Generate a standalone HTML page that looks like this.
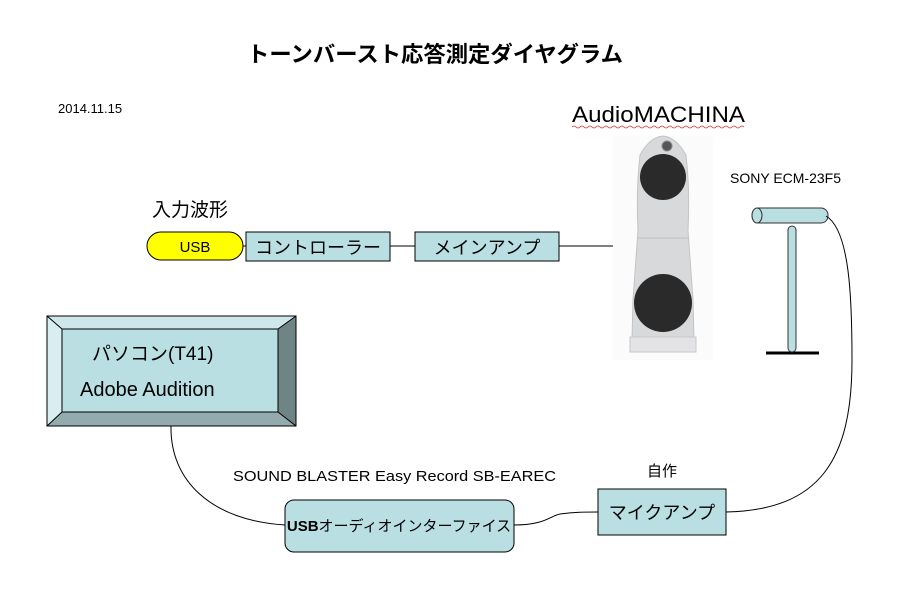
<!DOCTYPE html>
<html><head><meta charset="utf-8"><style>
body{margin:0;background:#fff;}
svg{display:block;font-family:"Liberation Sans","Noto Sans CJK JP",sans-serif;}
</style></head><body>
<svg width="906" height="606" viewBox="0 0 906 606" xmlns="http://www.w3.org/2000/svg">
<rect width="906" height="606" fill="#fff"/>
<text x="435" y="62" font-size="22" font-weight="bold" text-anchor="middle" textLength="376" lengthAdjust="spacingAndGlyphs">トーンバースト応答測定ダイヤグラム</text>
<text x="58" y="113" font-size="13">2014.11.15</text>
<text x="572" y="122" font-size="22" textLength="173" lengthAdjust="spacingAndGlyphs">AudioMACHINA</text>
<path d="M572 127 q2 -2 4 0 t4 0 t4 0 t4 0 t4 0 t4 0 t4 0 t4 0 t4 0 t4 0 t4 0 t4 0 t4 0 t4 0 t4 0 t4 0 t4 0 t4 0 t4 0 t4 0 t4 0 t4 0 t4 0 t4 0 t4 0 t4 0 t4 0 t4 0 t4 0 t4 0 t4 0 t4 0 t4 0 t4 0 t4 0 t4 0 t4 0 t4 0 t4 0 t4 0 t4 0 t4 0 t4 0" stroke="#d33" fill="none" stroke-width="0.8"/>
<text x="730" y="183" font-size="14">SONY ECM-23F5</text>
<text x="152" y="216" font-size="19">入力波形</text>
<rect x="147" y="232" width="96" height="28" rx="14" fill="#ffff00" stroke="#000" stroke-width="1"/>
<text x="195" y="252" font-size="15" text-anchor="middle">USB</text>
<line x1="243" y1="246" x2="246" y2="246" stroke="#000"/>
<rect x="246" y="232" width="144" height="29" fill="#b9dfe2" stroke="#000"/>
<text x="318" y="254" font-size="18" text-anchor="middle">コントローラー</text>
<line x1="390" y1="246" x2="415" y2="246" stroke="#000"/>
<rect x="415" y="232" width="144" height="29" fill="#b9dfe2" stroke="#000"/>
<text x="487" y="254" font-size="18" text-anchor="middle">メインアンプ</text>
<line x1="559" y1="246" x2="613" y2="246" stroke="#000"/>
<!-- speaker -->
<rect x="613" y="136" width="100" height="224" fill="#fbfbfb"/>
<path d="M632 340 L633 300 Q636 260 638 230 Q636 190 640 155 Q650 137 663 136 Q676 137 686 155 Q690 190 688 230 Q690 260 693 300 L694 340 Z" fill="#d8d9db" stroke="#c4c4c6"/>
<line x1="638" y1="238" x2="688" y2="238" stroke="#c0c0c2"/>
<rect x="630" y="337" width="66" height="15" fill="#e3e3e5" stroke="#c8c8ca"/>
<circle cx="663" cy="177" r="23" fill="#2a2a2a"/>
<circle cx="667" cy="146" r="5" fill="#555" stroke="#888"/>
<circle cx="663" cy="303" r="29" fill="#2a2a2a"/>
<!-- mic -->
<line x1="766" y1="353" x2="819" y2="353" stroke="#000" stroke-width="3"/>
<rect x="788" y="226" width="8" height="126" rx="4" fill="#b9dfe2" stroke="#333"/>
<rect x="752" y="208" width="76" height="15" rx="7" fill="#b9dfe2" stroke="#333"/>
<ellipse cx="757" cy="215.5" rx="5" ry="7.5" fill="#b9dfe2" stroke="#333"/>
<path d="M826 216 C850 230 852 300 852 360 C852 460 820 510 726 512" stroke="#000" fill="none"/>
<!-- PC bevel box -->
<rect x="47" y="316" width="249" height="110" fill="#b9dfe2"/>
<polygon points="47,316 296,316 278,329 62,329" fill="#cfe7ea"/>
<polygon points="47,316 62,329 62,412 47,426" fill="#d8eef0"/>
<polygon points="296,316 296,426 278,412 278,329" fill="#6f8485"/>
<polygon points="47,426 296,426 278,412 62,412" fill="#93abae"/>
<rect x="47" y="316" width="249" height="110" fill="none" stroke="#000"/>
<rect x="62" y="329" width="216" height="83" fill="none" stroke="#000"/>
<line x1="47" y1="316" x2="62" y2="329" stroke="#000"/><line x1="296" y1="316" x2="278" y2="329" stroke="#000"/>
<line x1="47" y1="426" x2="62" y2="412" stroke="#000"/><line x1="296" y1="426" x2="278" y2="412" stroke="#000"/>
<text x="92" y="360" font-size="19">パソコン(T41)</text>
<text x="80" y="396" font-size="20">Adobe Audition</text>
<path d="M171 426 C170 480 210 520 285 525" stroke="#000" fill="none"/>
<path d="M514 525 C545 525 550 516 560 514 C575 512 585 512 598 512" stroke="#000" fill="none"/>
<text x="233" y="481" font-size="15" textLength="323" lengthAdjust="spacingAndGlyphs">SOUND BLASTER Easy Record  SB-EAREC</text>
<text x="647" y="476" font-size="15">自作</text>
<rect x="285" y="500" width="229" height="52" rx="9" fill="#b9dfe2" stroke="#000"/>
<text x="399" y="531" font-size="15" text-anchor="middle"><tspan font-weight="bold">USB</tspan>オーディオインターファイス</text>
<rect x="598" y="489" width="128" height="46" fill="#b9dfe2" stroke="#000"/>
<text x="662" y="519" font-size="18" text-anchor="middle">マイクアンプ</text>
</svg>
</body></html>
